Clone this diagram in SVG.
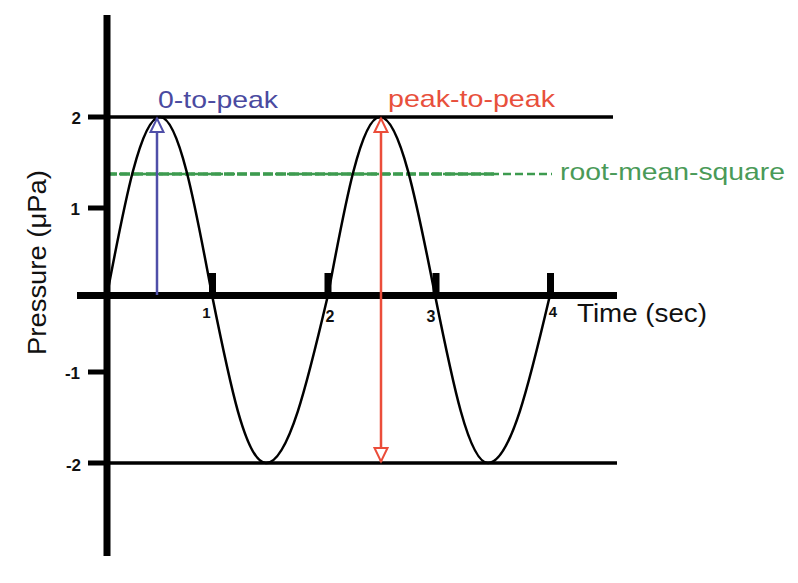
<svg xmlns="http://www.w3.org/2000/svg" width="798" height="583" viewBox="0 0 798 583">
<style>
  .ref { stroke: #000; stroke-width: 3.5; fill: none; }
  .tick { fill: #000; }
  .num { font-family: "Liberation Sans", Arial, sans-serif; font-weight: bold; fill: #111; }
  .lbl { font-family: "Liberation Sans", Arial, sans-serif; }
  .wave { stroke: #000; stroke-width: 2.5; fill: none; }
</style>
<defs>
  <marker id="headBlue" markerUnits="userSpaceOnUse" markerWidth="20" markerHeight="20" refX="15" refY="7" orient="auto-start-reverse" viewBox="-2 -2 20 18">
    <path d="M1,0.5 L14.5,7 L1,13.5 Z" fill="#fff" stroke="#4f4fa8" stroke-width="2"/>
  </marker>
  <marker id="headRed" markerUnits="userSpaceOnUse" markerWidth="20" markerHeight="20" refX="15" refY="7" orient="auto-start-reverse" viewBox="-2 -2 20 18">
    <path d="M1,0.5 L14.5,7 L1,13.5 Z" fill="#fff" stroke="#eb4d3a" stroke-width="2"/>
  </marker>
</defs>
<rect width="798" height="583" fill="#fff"/>

<g id="reference-lines">
  <line class="ref" x1="107" y1="117" x2="613" y2="117"/>
  <line class="ref" x1="107" y1="463" x2="617" y2="463" stroke-width="3"/>
</g>

<g id="rms-line">
  <line x1="107" y1="174" x2="552" y2="174" stroke="#3d9b4f" stroke-width="2.5" stroke-dasharray="8 4"/>
  <line x1="107" y1="174" x2="497" y2="174" stroke="#3d9b4f" stroke-width="3.5" stroke-dasharray="10 3"/>
</g>

<g id="wave">
  <path class="wave" d="M107,295 C124.3,203.8 140.8,117 160,117 C178.8,117 195,203.8 212,295 C229.3,381.1 245.8,463 266,463 C288.4,463 307.8,381.1 328,295 C345,203.8 361.2,117 380,117 C399.9,117 417.1,203.8 435,295 C452.3,381.1 468.8,463 488,463 C510.4,463 529.8,381.1 550,295"/>
</g>

<g id="axes">
  <rect class="tick" x="103.5" y="15" width="7" height="541"/>
  <rect class="tick" x="77" y="292" width="540" height="7"/>
  <rect class="tick" x="88" y="114.5" width="19" height="5"/>
  <rect class="tick" x="88" y="205.5" width="19" height="5"/>
  <rect class="tick" x="88" y="369.5" width="19" height="5"/>
  <rect class="tick" x="88" y="460.5" width="19" height="5"/>
  <rect class="tick" x="209" y="273" width="7" height="22"/>
  <rect class="tick" x="324.5" y="273" width="7" height="22"/>
  <rect class="tick" x="432.5" y="273" width="7" height="22"/>
  <rect class="tick" x="547" y="273" width="7" height="22"/>
</g>

<g id="tick-labels">
  <text class="num" x="81" y="123.5" text-anchor="end" font-size="17">2</text>
  <text class="num" x="80" y="214.5" text-anchor="end" font-size="17">1</text>
  <text class="num" x="80" y="378.5" text-anchor="end" font-size="17">-1</text>
  <text class="num" x="81" y="470.5" text-anchor="end" font-size="17">-2</text>
  <text class="num" x="206.5" y="318" text-anchor="middle" font-size="15">1</text>
  <text class="num" x="330" y="322" text-anchor="middle" font-size="16">2</text>
  <text class="num" x="431" y="322" text-anchor="middle" font-size="16">3</text>
  <text class="num" x="553" y="317" text-anchor="middle" font-size="15">4</text>
</g>

<g id="arrows">
  <line x1="157" y1="295" x2="157" y2="118" stroke="#4f4fa8" stroke-width="2.5" marker-end="url(#headBlue)"/>
  <line x1="381" y1="118" x2="381" y2="462" stroke="#eb4d3a" stroke-width="2.5" marker-start="url(#headRed)" marker-end="url(#headRed)"/>
</g>

<g id="labels">
  <text class="lbl" x="158" y="107.5" fill="#4a4aa0" font-size="24" textLength="120" lengthAdjust="spacingAndGlyphs">0-to-peak</text>
  <text class="lbl" x="388" y="106.5" fill="#e8503c" font-size="24" textLength="167" lengthAdjust="spacingAndGlyphs">peak-to-peak</text>
  <text class="lbl" x="560" y="180" fill="#4a9a58" font-size="24" textLength="225" lengthAdjust="spacingAndGlyphs">root-mean-square</text>
  <text class="lbl" x="577" y="322" fill="#111" font-size="25" textLength="130" lengthAdjust="spacingAndGlyphs">Time (sec)</text>
  <text class="lbl" transform="translate(46,355) rotate(-90)" x="0" y="0" fill="#111" font-size="25" textLength="185" lengthAdjust="spacingAndGlyphs">Pressure (μPa)</text>
</g>
</svg>
